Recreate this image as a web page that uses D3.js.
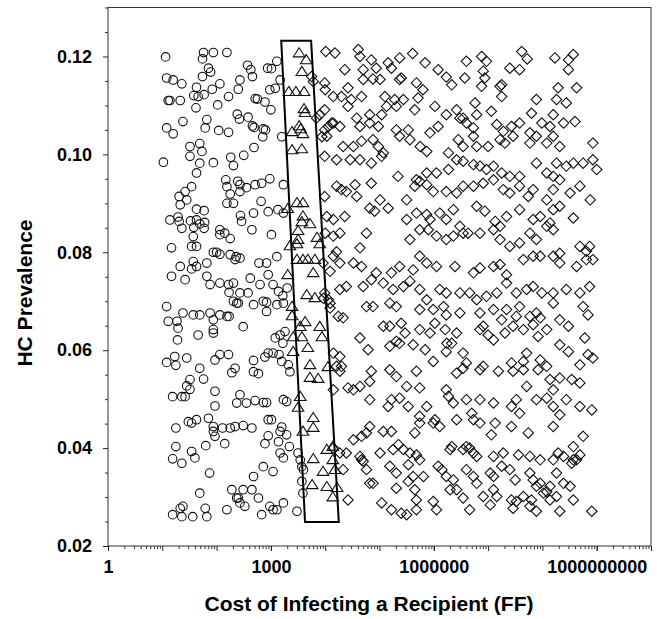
<!DOCTYPE html>
<html><head><meta charset="utf-8">
<script src="https://cdn.jsdelivr.net/npm/d3@7"></script>
<style>
body{margin:0;background:#fff;}
svg{display:block;}
text{font-family:"Liberation Sans",Arial,Helvetica,sans-serif;font-weight:bold;fill:#000;}
</style>
</head><body>
<svg id="chart" width="657" height="619"></svg>
<script>
// ---- data (x values stored as log10 of cost in FF, y = HC prevalence) ----
const xTickValues = [1, 1000, 1000000, 1000000000];
const xTickLabels = ["1", "1000", "1000000", "1000000000"];
const yTickValues = [0.02, 0.04, 0.06, 0.08, 0.10, 0.12];
const yTickLabels = ["0.02", "0.04", "0.06", "0.08", "0.10", "0.12"];
const xLabel = "Cost of Infecting a Recipient (FF)";
const yLabel = "HC Prevalence";

// highlighted band (corners: cost, prevalence)
const boxCost = [1550, 5500, 17800, 4250];
const boxPrev = [0.1232, 0.1232, 0.0249, 0.0249];

// circles: [log10 cost, prevalence]
const circlePoints = [
[1.06,.1199],[1.76,.1208],[1.94,.1208],[2.19,.1208],[1.74,.1195],[1.85,.1176],[1.89,.1168],[2.57,.1182],[2.63,.1173],[2.66,.1159],[2.94,.1176],[3.01,.1175],[3.11,.1190],[1.08,.1156],[1.20,.1152],[1.36,.1144],[1.74,.1159],[1.63,.1137],[1.58,.1120],[1.66,.1118],[1.77,.1122],[1.92,.1133],[2.06,.1144],[2.43,.1152],[2.40,.1133],[2.22,.1118],[2.02,.1101],[1.62,.1095],[1.11,.1110],[1.14,.1110],[1.33,.1110],[2.71,.1114],[2.75,.1113],[2.89,.1107],[3.00,.1091],[2.98,.1132],[3.08,.1135],[3.17,.1152],
[1.08,.1054],[1.20,.1042],[1.38,.1067],[1.82,.1071],[1.79,.1054],[2.04,.1049],[2.22,.1045],[2.38,.1082],[2.42,.1072],[2.58,.1076],[2.66,.1058],[2.69,.1055],[2.86,.1052],[2.90,.1050],[2.85,.1036],[1.51,.1016],[1.51,.0996],[1.69,.1022],[1.73,.1006],[1.69,.0982],[1.63,.0962],[1.02,.0984],[1.94,.0983],[2.26,.0994],[2.31,.0977],[2.50,.0998],[2.69,.1014],[3.20,.1036],
[2.17,.0948],[2.19,.0934],[2.39,.0945],[2.43,.0938],[2.55,.0932],[2.71,.0938],[2.83,.0941],[2.98,.0950],[3.23,.0938],[2.25,.0919],[2.43,.0924],[2.31,.0900],[2.19,.0900],[1.54,.0934],[1.42,.0924],[1.31,.0914],[1.33,.0897],[1.63,.0888],[1.77,.0885],[1.45,.0907],
[1.14,.0866],[1.29,.0872],[1.31,.0863],[1.52,.0864],[1.63,.0866],[1.69,.0858],[1.78,.0861],[1.77,.0849],[1.58,.0851],[1.57,.0832],[1.36,.0849],[1.54,.0812],[1.63,.0812],[1.17,.0809],[2.44,.0875],[2.46,.0863],[2.68,.0880],[2.82,.0904],[2.95,.0883],[3.13,.0887],[3.23,.0880],[2.06,.0846],[2.15,.0839],[2.25,.0828],[2.06,.0836],[2.65,.0846],[3.01,.0836],
[1.94,.0800],[2.00,.0800],[2.06,.0796],[2.25,.0795],[2.36,.0791],[2.43,.0788],[2.34,.0785],[1.82,.0778],[1.57,.0781],[1.63,.0771],[1.33,.0771],[1.17,.0751],[1.42,.0744],[1.54,.0766],[1.82,.0751],[1.88,.0734],[2.06,.0737],[2.22,.0734],[2.31,.0737],[2.23,.0718],[2.62,.0747],[2.78,.0778],[2.92,.0778],[2.95,.0754],[3.11,.0791],[2.80,.0734],[3.04,.0734],[3.14,.0720],[3.22,.0711],[3.30,.0727],[2.58,.0717],[2.43,.0717],[2.31,.0700],[2.40,.0696],[2.68,.0693],[2.86,.0700],[2.92,.0698],
[1.08,.0689],[1.38,.0676],[1.57,.0672],[1.69,.0672],[1.88,.0676],[1.94,.0662],[2.06,.0672],[2.19,.0669],[2.23,.0669],[2.37,.0696],[2.92,.0679],[3.11,.0693],[3.23,.0696],[1.11,.0659],[1.27,.0659],[1.29,.0645],[1.28,.0621],[1.94,.0642],[1.94,.0635],[2.49,.0648],[3.26,.0638],[1.66,.0631],[3.08,.0625],[3.17,.0631],[3.22,.0614],
[1.08,.0575],[1.23,.0587],[1.25,.0569],[1.45,.0584],[1.69,.0563],[1.76,.0541],[1.97,.0580],[2.06,.0591],[2.22,.0591],[2.28,.0554],[2.34,.0563],[2.68,.0579],[2.68,.0556],[2.77,.0552],[2.89,.0586],[2.95,.0594],[3.04,.0594],[3.15,.0591],[3.20,.0577],[3.32,.0570],[3.35,.0556],[1.45,.0527],[1.51,.0540],[1.36,.0505],[1.42,.0505],[1.19,.0505],[1.51,.0520],[1.97,.0516],[1.97,.0486],[2.43,.0509],[2.37,.0492],[2.55,.0492],[2.71,.0497],[2.86,.0493],[2.92,.0493],[3.23,.0499],[3.29,.0495],
[1.25,.0441],[1.48,.0454],[1.54,.0451],[1.63,.0458],[1.85,.0461],[1.94,.0444],[1.94,.0434],[1.97,.0424],[2.11,.0441],[2.25,.0441],[2.34,.0444],[2.49,.0446],[2.65,.0441],[2.95,.0458],[3.01,.0458],[3.20,.0443],[3.17,.0434],[3.29,.0427],[1.25,.0403],[1.19,.0378],[1.36,.0369],[1.54,.0393],[1.60,.0380],[1.80,.0405],[2.15,.0409],[2.89,.0409],[2.95,.0425],[3.14,.0413],[3.17,.0390],[3.23,.0380],[3.34,.0403],
[1.87,.0349],[2.68,.0342],[2.86,.0362],[3.04,.0352],[1.69,.0308],[2.28,.0315],[2.40,.0298],[2.43,.0288],[2.49,.0315],[2.52,.0281],[2.65,.0315],[2.77,.0298],[2.98,.0281],[3.04,.0274],[3.23,.0288],[3.48,.0271],[1.79,.0277],[1.38,.0281],[1.33,.0277],[1.19,.0264],[1.36,.0260],[1.56,.0260],[1.82,.0260],[2.19,.0274],[2.37,.0298],[2.83,.0264],[3.11,.0274],[3.50,.0390],[3.54,.0376],[3.57,.0362],[3.60,.0356],[3.57,.0332],[3.59,.0308]
];

// triangles: [log10 cost, prevalence]
const trianglePoints = [
[3.52,.1207],[3.65,.1193],[3.57,.1169],[3.33,.1128],[3.46,.1128],[3.61,.1128],[3.61,.1093],[3.63,.1085],[3.52,.1058],[3.55,.1052],[3.39,.1046],[3.59,.1042],[3.39,.1009],[3.57,.1011],[3.48,.0901],[3.59,.0901],[3.31,.0889],[3.59,.0874],[3.72,.0858],[3.57,.0862],[3.50,.0844],[3.50,.0826],[3.35,.0813],[3.48,.0817],[3.85,.0830],[3.90,.0817],[3.48,.0785],[3.59,.0785],[3.68,.0785],[3.81,.0785],[3.78,.0758],[3.31,.0754],[3.66,.0713],[3.81,.0707],[3.39,.0689],[3.39,.0670],[3.63,.0658],[3.54,.0648],[3.90,.0648],[3.41,.0627],[3.57,.0627],[3.68,.0605],[3.94,.0627],[3.41,.0597],[3.72,.0570],[4.05,.0566],[3.72,.0544],[3.87,.0542],[3.54,.0505],[3.50,.0483],[3.78,.0462],[3.78,.0442],[3.59,.0434],[4.03,.0397],[4.14,.0403],[3.78,.0378],[4.14,.0376],[3.96,.0352],[4.18,.0356],[3.76,.0325],[4.03,.0321],[4.22,.0319],[4.14,.0300]
];

// diamonds: [log10 cost, prevalence]
const diamondPoints = [
[4.01,.1210],[4.18,.1207],[4.61,.1214],[4.64,.1200],[4.85,.1193],[5.16,.1187],[5.37,.1197],[5.61,.1206],[5.84,.1187],[6.60,.1190],[6.88,.1200],[6.97,.1190],[7.62,.1210],[7.72,.1195],[8.23,.1197],[8.48,.1193],[8.57,.1204],
[4.36,.1173],[4.70,.1173],[4.94,.1176],[5.22,.1176],[5.40,.1156],[6.08,.1173],[6.23,.1158],[6.33,.1142],[6.57,.1156],[6.91,.1170],[6.94,.1156],[7.25,.1142],[7.40,.1176],[7.58,.1173],[8.29,.1136],[8.48,.1173],[8.63,.1136],[3.99,.1146],[4.42,.1136],[4.70,.1153],[4.88,.1154],[5.01,.1153],[5.37,.1153],[5.68,.1146],[5.80,.1132],[6.88,.1139],[7.22,.1139],
[4.15,.1118],[4.30,.1118],[4.48,.1112],[4.67,.1118],[5.10,.1118],[5.28,.1112],[5.44,.1112],[5.71,.1115],[6.02,.1098],[6.23,.1081],[6.42,.1091],[6.76,.1105],[7.06,.1088],[7.25,.1118],[7.89,.1112],[8.26,.1112],[8.44,.1105],[3.99,.1091],[4.42,.1098],[5.13,.1098],[5.31,.1098],[5.65,.1091],[6.54,.1074],[6.79,.1081],[7.80,.1084],[8.20,.1081],[8.39,.1064],[8.60,.1067],
[4.15,.1064],[4.58,.1074],[4.82,.1081],[5.04,.1081],[4.64,.1057],[4.82,.1064],[4.98,.1057],[5.31,.1050],[5.53,.1050],[5.93,.1044],[6.08,.1057],[6.48,.1074],[6.60,.1064],[6.73,.1054],[7.16,.1061],[7.28,.1047],[7.43,.1057],[7.58,.1064],[7.77,.1044],[7.99,.1064],[8.14,.1057],[3.99,.1050],[4.27,.1057],
[4.03,.1037],[4.33,.1016],[4.52,.1016],[4.67,.1027],[4.88,.1030],[4.98,.1016],[5.07,.1003],[5.37,.1037],[5.56,.1030],[5.75,.1016],[5.87,.1006],[6.27,.1003],[6.45,.1030],[6.54,.1016],[6.73,.1037],[6.79,.1016],[7.00,.1016],[7.22,.1030],[7.31,.1023],[7.46,.1037],[7.77,.1023],[7.89,.1037],[8.08,.1023],[8.20,.1037],[8.32,.1016],[8.93,.1023],
[3.99,.0996],[4.21,.0989],[4.46,.0989],[4.64,.0989],[4.85,.0982],[5.04,.0996],[5.34,.0955],[5.68,.0948],[5.87,.0962],[6.05,.0962],[6.27,.0969],[6.42,.0989],[6.54,.0986],[6.73,.0979],[6.85,.0976],[6.97,.0969],[7.10,.0976],[7.25,.0962],[7.40,.0955],[7.58,.0955],[7.89,.0982],[8.08,.0962],[8.20,.0955],[8.26,.0982],[8.44,.0976],[8.57,.0982],[8.75,.0982],[8.93,.0989],[9.00,.0969],
[4.21,.0935],[4.30,.0928],[4.39,.0924],[4.55,.0938],[4.58,.0914],[4.85,.0941],[5.50,.0907],[5.65,.0935],[5.74,.0945],[5.87,.0938],[5.99,.0924],[6.23,.0924],[6.42,.0921],[6.54,.0935],[6.73,.0935],[6.91,.0941],[7.10,.0948],[7.28,.0928],[7.40,.0921],[7.58,.0935],[7.74,.0914],[7.83,.0928],[8.08,.0907],[8.20,.0928],[8.32,.0948],[8.51,.0921],[8.69,.0935],[8.88,.0907],[3.99,.0914],
[4.03,.0873],[4.15,.0867],[4.36,.0873],[4.82,.0890],[5.01,.0907],[4.91,.0884],[5.16,.0890],[5.50,.0867],[5.68,.0880],[5.87,.0877],[5.93,.0867],[6.11,.0880],[6.23,.0867],[6.36,.0887],[6.48,.0853],[6.79,.0894],[6.94,.0884],[7.13,.0863],[7.22,.0853],[7.34,.0873],[7.58,.0887],[7.83,.0867],[7.96,.0873],[8.20,.0887],[8.32,.0894],[8.57,.0870],[8.14,.0860],
[4.15,.0833],[4.27,.0839],[4.64,.0809],[4.76,.0839],[5.56,.0826],[5.74,.0846],[5.90,.0846],[6.05,.0833],[6.23,.0826],[6.36,.0833],[6.54,.0839],[6.63,.0839],[6.85,.0839],[7.10,.0846],[7.22,.0826],[7.40,.0812],[7.58,.0819],[7.77,.0839],[7.89,.0826],[8.08,.0853],[8.20,.0846],[8.32,.0798],[8.69,.0812],[8.81,.0802],[8.87,.0812],
[3.96,.0778],[4.15,.0792],[4.27,.0778],[4.52,.0778],[4.67,.0771],[4.94,.0758],[5.22,.0758],[5.37,.0771],[5.62,.0764],[5.74,.0792],[5.87,.0778],[6.05,.0771],[6.39,.0771],[6.73,.0758],[6.85,.0768],[7.10,.0771],[7.22,.0775],[7.34,.0754],[7.65,.0785],[7.83,.0792],[7.96,.0792],[8.20,.0792],[8.32,.0778],[8.63,.0771],[8.81,.0785],[8.93,.0785],
[3.99,.0717],[4.27,.0724],[4.39,.0730],[4.70,.0730],[4.85,.0744],[5.07,.0737],[5.25,.0724],[5.44,.0730],[5.56,.0741],[5.74,.0724],[5.87,.0703],[6.11,.0724],[6.23,.0717],[6.48,.0717],[6.66,.0717],[6.79,.0703],[6.97,.0710],[7.16,.0717],[7.34,.0737],[7.52,.0717],[7.71,.0724],[7.83,.0730],[7.99,.0717],[8.20,.0717],[8.44,.0724],[8.69,.0717],[8.87,.0730],
[4.09,.0696],[4.33,.0666],[4.76,.0689],[4.88,.0689],[5.19,.0696],[5.31,.0689],[5.74,.0683],[5.99,.0683],[6.18,.0689],[6.23,.0672],[6.48,.0676],[6.85,.0676],[7.10,.0683],[7.25,.0662],[7.34,.0683],[7.52,.0669],[7.58,.0689],[7.77,.0669],[7.89,.0676],[7.96,.0666],[8.20,.0696],[8.32,.0662],[8.75,.0689],[8.84,.0672],
[5.07,.0649],[5.19,.0649],[5.40,.0655],[5.47,.0635],[5.74,.0642],[5.93,.0635],[6.02,.0655],[6.21,.0642],[6.42,.0635],[6.85,.0642],[6.91,.0649],[7.00,.0631],[7.10,.0621],[7.31,.0635],[7.46,.0649],[7.65,.0642],[7.83,.0652],[7.92,.0628],[8.08,.0642],[8.48,.0649],[8.78,.0625],[5.31,.0618],[4.64,.0625],[6.24,.0614],[6.33,.0614],
[4.27,.0587],[4.79,.0601],[5.19,.0608],[5.37,.0614],[5.62,.0611],[5.84,.0601],[5.99,.0577],[6.23,.0597],[6.54,.0594],[6.60,.0574],[6.91,.0567],[7.43,.0574],[7.65,.0577],[7.71,.0594],[7.96,.0580],[8.08,.0567],[8.32,.0611],[8.48,.0597],[8.69,.0570],[8.84,.0591],[8.93,.0584],[4.21,.0567],
[4.15,.0519],[4.27,.0557],[4.42,.0523],[4.52,.0519],[4.85,.0557],[4.82,.0536],[5.19,.0560],[5.31,.0546],[5.50,.0526],[5.68,.0557],[5.74,.0523],[6.23,.0519],[6.42,.0553],[6.54,.0563],[6.85,.0560],[7.19,.0557],[7.46,.0557],[7.65,.0560],[7.71,.0526],[7.92,.0560],[8.14,.0540],[8.20,.0519],[8.32,.0543],[8.54,.0540],[8.69,.0533],[4.64,.0526],
[4.82,.0499],[5.16,.0485],[5.22,.0499],[5.37,.0502],[5.53,.0485],[5.74,.0465],[5.87,.0485],[6.02,.0458],[6.27,.0506],[6.36,.0492],[6.42,.0458],[6.60,.0499],[6.70,.0471],[6.85,.0499],[7.10,.0492],[7.43,.0485],[7.52,.0499],[7.58,.0471],[7.89,.0499],[8.08,.0502],[8.20,.0485],[8.32,.0468],[8.44,.0499],[8.69,.0485],[8.91,.0478],
[4.52,.0417],[4.67,.0424],[4.76,.0431],[4.82,.0444],[5.07,.0434],[5.22,.0434],[5.35,.0407],[5.65,.0431],[5.74,.0451],[5.99,.0451],[6.11,.0444],[6.33,.0403],[6.60,.0403],[6.73,.0458],[6.85,.0451],[7.06,.0427],[7.13,.0451],[7.43,.0444],[7.74,.0431],[8.20,.0444],[8.57,.0403],[8.75,.0424],
[4.15,.0400],[4.27,.0390],[4.39,.0390],[4.64,.0383],[4.67,.0376],[5.01,.0390],[5.25,.0397],[5.44,.0397],[5.56,.0390],[5.68,.0386],[5.74,.0376],[6.30,.0397],[6.54,.0397],[6.66,.0400],[6.73,.0390],[6.79,.0383],[7.10,.0383],[7.28,.0390],[7.56,.0386],[7.77,.0383],[7.96,.0376],[8.20,.0376],[8.29,.0390],[8.39,.0383],[8.57,.0376],[8.69,.0386],
[4.70,.0373],[4.76,.0356],[4.88,.0328],[5.19,.0363],[5.31,.0349],[5.53,.0366],[5.62,.0342],[5.81,.0342],[6.08,.0363],[6.15,.0356],[6.23,.0342],[6.36,.0335],[6.60,.0356],[6.73,.0342],[7.04,.0349],[7.10,.0342],[7.25,.0363],[7.40,.0356],[7.50,.0335],[7.77,.0349],[7.83,.0335],[7.96,.0328],[8.14,.0322],[8.26,.0349],[8.39,.0328],[8.54,.0369],[8.63,.0376],[4.33,.0356],
[4.42,.0294],[4.82,.0328],[5.31,.0318],[5.53,.0332],[5.65,.0315],[5.68,.0294],[5.99,.0291],[6.30,.0315],[6.42,.0315],[6.54,.0298],[6.79,.0328],[6.91,.0301],[7.10,.0315],[7.16,.0301],[7.43,.0294],[7.52,.0291],[7.65,.0301],[7.80,.0294],[7.89,.0322],[8.02,.0308],[8.14,.0294],[8.26,.0301],[8.51,.0322],[8.57,.0294],[8.08,.0311],
[5.04,.0288],[5.22,.0274],[5.40,.0267],[5.50,.0264],[5.68,.0274],[6.05,.0274],[6.66,.0274],[7.46,.0277],[7.89,.0271],[8.32,.0271],[8.91,.0271],[7.04,.0284],[7.77,.0281],
[3.75,.1159],[3.78,.1149],[3.90,.1081],[3.84,.1074],[4.06,.1057],[4.12,.1064],[3.94,.1036],[4.00,.1132],[4.00,.0839],[4.21,.0801],[4.09,.0761],[3.97,.0706],[4.06,.0703],[4.09,.0686],[4.24,.0669],[4.15,.0594],[4.30,.0567]
];

// ---- chart ----
const svg = d3.select("#chart");
const plotL = 108, plotR = 651, plotT = 7.5, plotB = 546;
const x = d3.scaleLog().domain([1, 1e10]).range([plotL, plotR]);
const y = d3.scaleLinear().domain([0.02, 0.13]).range([plotB, plotT]);
const cost = lc => Math.pow(10, lc);

// frame
svg.append("rect").attr("x", plotL).attr("y", plotT)
  .attr("width", plotR - plotL).attr("height", plotB - plotT)
  .attr("fill", "none").attr("stroke", "#333").attr("stroke-width", 1);

// minor ticks
const xMinor = [];
for (let k = 0; k < 10; k++) for (let m = 2; m <= 9; m++) xMinor.push(m * Math.pow(10, k));
const yMinor = d3.range(0.025, 0.1301, 0.005).filter(v => Math.abs((v * 100) % 2) > 0.01 && Math.abs((v*100)%2 - 2) > 0.01);

const xMinorAxis = d3.axisBottom(x).tickValues(xMinor).tickSize(3).tickFormat("");
svg.append("g").attr("transform", `translate(0,${plotB})`).call(xMinorAxis)
  .call(g => g.select(".domain").remove())
  .call(g => g.selectAll("line").attr("stroke", "#333"));
const xDecades = d3.range(0, 11).map(k => Math.pow(10, k));
svg.append("g").attr("transform", `translate(0,${plotB})`)
  .call(d3.axisBottom(x).tickValues(xDecades).tickSize(5).tickFormat(""))
  .call(g => g.select(".domain").remove())
  .call(g => g.selectAll("line").attr("stroke", "#222"));

const xAxis = d3.axisBottom(x).tickValues(xTickValues).tickSize(5).tickPadding(9)
  .tickFormat((d, i) => xTickLabels[i]);
svg.append("g").attr("transform", `translate(0,${plotB})`).call(xAxis)
  .call(g => g.select(".domain").remove())
  .call(g => g.selectAll("line").attr("stroke", "#222"))
  .call(g => g.selectAll("text").attr("font-size", 18).attr("font-family", null).attr("fill", "#000"));

svg.append("g").attr("transform", `translate(${plotL},0)`)
  .call(d3.axisLeft(y).tickValues(yMinor).tickSize(3).tickFormat(""))
  .call(g => g.select(".domain").remove())
  .call(g => g.selectAll("line").attr("stroke", "#333"));
const yAxis = d3.axisLeft(y).tickValues(yTickValues).tickSize(5).tickPadding(11)
  .tickFormat((d, i) => yTickLabels[i]);
svg.append("g").attr("transform", `translate(${plotL},0)`).call(yAxis)
  .call(g => g.select(".domain").remove())
  .call(g => g.selectAll("line").attr("stroke", "#222"))
  .call(g => g.selectAll("text").attr("font-size", 18).attr("font-family", null).attr("fill", "#000"));

// axis titles
svg.append("text").attr("x", 369).attr("y", 611).attr("text-anchor", "middle")
  .attr("font-size", 21).text(xLabel);
svg.append("text").attr("transform", "translate(32,293) rotate(-90)")
  .attr("text-anchor", "middle").attr("font-size", 21).text(yLabel);

// markers
const strokeCol = "#111", sw = 1.1;
svg.append("g").selectAll("circle").data(circlePoints).join("circle")
  .attr("cx", d => x(cost(d[0]))).attr("cy", d => y(d[1])).attr("r", 4.3)
  .attr("fill", "none").attr("stroke", strokeCol).attr("stroke-width", sw);

svg.append("g").selectAll("path").data(trianglePoints).join("path")
  .attr("transform", d => `translate(${x(cost(d[0]))},${y(d[1])})`)
  .attr("d", "M0,-5.3L5.8,3.8L-5.8,3.8Z")
  .attr("fill", "none").attr("stroke", strokeCol).attr("stroke-width", sw);

svg.append("g").selectAll("path").data(diamondPoints).join("path")
  .attr("transform", d => `translate(${x(cost(d[0]))},${y(d[1])})`)
  .attr("d", "M0,-5.2L5.2,0L0,5.2L-5.2,0Z")
  .attr("fill", "none").attr("stroke", strokeCol).attr("stroke-width", sw);

// highlighted band
const boxPts = boxCost.map((c, i) => [x(c), y(boxPrev[i])]);
svg.append("path").attr("d", d3.line()(boxPts) + "Z")
  .attr("fill", "none").attr("stroke", "#000").attr("stroke-width", 2);
</script>
</body></html>
